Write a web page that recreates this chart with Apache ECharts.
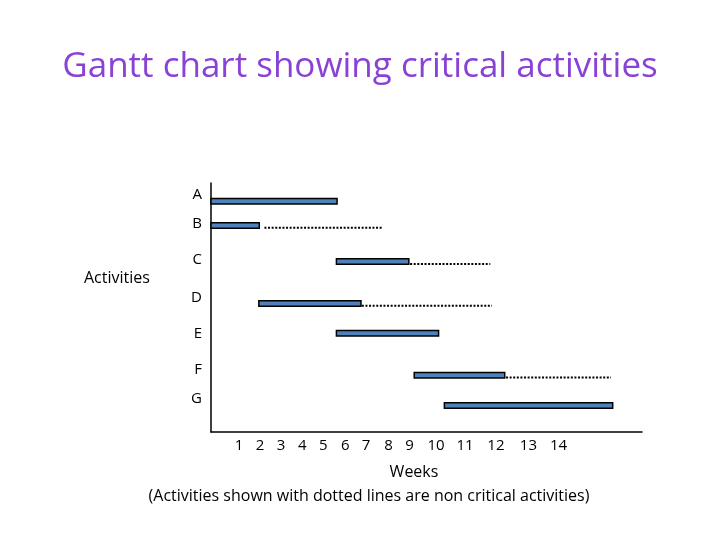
<!DOCTYPE html>
<html>
<head>
<meta charset="utf-8">
<script src="https://cdn.jsdelivr.net/npm/echarts@6/dist/echarts.min.js"></script>
<style>
html,body{margin:0;padding:0;background:#fff;}
#main{width:720px;height:540px;}
</style>
</head>
<body>
<div id="main"></div>
<script>
// Activities (rows)
const categories = ['A', 'B', 'C', 'D', 'E', 'F', 'G'];
// label row position and bar row position on the y scale (row units)
const labelRow = [0, 0.85, 1.91, 3.03, 4.09, 5.15, 6.0];
const barRow = [0.19, 0.9, 1.96, 3.19, 4.07, 5.3, 6.19];
// bar start / end on the week scale
const barStart = [0, 0, 5.82, 2.22, 5.82, 9.43, 10.83];
const barEnd = [5.85, 2.24, 9.18, 6.96, 10.56, 13.63, 18.64];
// dotted (float) extension for non critical activities
const slackStart = [null, 2.48, 9.24, 7.0, null, 13.69, null];
const slackEnd = [null, 7.93, 12.96, 13.04, null, 18.56, null];
// week tick labels and where they sit on the week scale
const weekLabels = ['1', '2', '3', '4', '5', '6', '7', '8', '9', '10', '11', '12', '13', '14'];
const weekPos = [1.30, 2.27, 3.25, 4.24, 5.21, 6.23, 7.19, 8.24, 9.21, 10.44, 11.79, 13.22, 14.73, 16.13];

const FONT = '"Open Sans"';

function lookup(v, positions, labels) {
  let best = -1, bd = Infinity;
  for (let i = 0; i < positions.length; i++) {
    const d = Math.abs(positions[i] - v);
    if (d < bd) { bd = d; best = i; }
  }
  return bd < 0.05 ? labels[best] : '';
}

const data = categories.map((c, i) => [barStart[i], barEnd[i], barRow[i], slackStart[i], slackEnd[i]]);

const chart = echarts.init(document.getElementById('main'));
chart.setOption({
  backgroundColor: '#ffffff',
  animation: false,
  title: {
    text: 'Gantt chart showing critical activities',
    left: 'center',
    top: 45,
    textStyle: { color: '#8a42d6', fontSize: 35, fontWeight: 'normal', fontFamily: FONT }
  },
  grid: { left: 211, right: 78, top: 183, bottom: 108, outerBoundsMode: 'none' },
  xAxis: {
    type: 'value',
    min: 0,
    max: 20,
    axisLine: { show: true, onZero: false, lineStyle: { color: '#000', width: 1.5 } },
    axisTick: { show: false, customValues: weekPos },
    splitLine: { show: false },
    axisLabel: {
      show: true,
      customValues: weekPos,
      formatter: (v) => lookup(v, weekPos, weekLabels),
      color: '#000',
      fontSize: 15,
      fontFamily: FONT,
      margin: 6,
      showMinLabel: true,
      showMaxLabel: true,
      hideOverlap: false
    }
  },
  yAxis: {
    type: 'value',
    inverse: true,
    min: -0.35,
    max: 6.97,
    axisLine: { show: true, onZero: false, lineStyle: { color: '#000', width: 1.5 } },
    axisTick: { show: false, customValues: labelRow },
    splitLine: { show: false },
    axisLabel: {
      show: true,
      customValues: labelRow,
      formatter: (v) => lookup(v, labelRow, categories),
      color: '#000',
      fontSize: 15,
      fontFamily: FONT,
      margin: 9,
      hideOverlap: false
    }
  },
  graphic: [
    { type: 'text', left: 84, top: 270, style: { text: 'Activities', fill: '#000', font: '16px ' + FONT } },
    { type: 'text', x: 414, y: 472, style: { text: 'Weeks', fill: '#000', font: '16px ' + FONT, align: 'center', verticalAlign: 'middle' } },
    { type: 'text', x: 369, y: 496, style: { text: '(Activities shown with dotted lines are non critical activities)', fill: '#000', font: '16px ' + FONT, align: 'center', verticalAlign: 'middle' } }
  ],
  series: [{
    type: 'custom',
    data: data,
    encode: { x: [0, 1], y: 2 },
    renderItem: function (params, api) {
      const s = api.coord([api.value(0), api.value(2)]);
      const e = api.coord([api.value(1), api.value(2)]);
      const h = 5.5;
      const children = [{
        type: 'rect',
        shape: { x: s[0], y: s[1] - h / 2, width: e[0] - s[0], height: h },
        style: { fill: '#4f81bd', stroke: '#000', lineWidth: 1.5 }
      }];
      const ds = api.value(3), de = api.value(4);
      if (ds != null && !isNaN(ds) && de != null && !isNaN(de)) {
        const a = api.coord([ds, api.value(2)]);
        const b = api.coord([de, api.value(2)]);
        children.push({
          type: 'line',
          shape: { x1: a[0], y1: a[1] + 2.3, x2: b[0], y2: b[1] + 2.3 },
          style: { stroke: '#000', lineWidth: 2, lineDash: [2, 1.6] }
        });
      }
      return { type: 'group', children: children };
    }
  }]
});
</script>
</body>
</html>
